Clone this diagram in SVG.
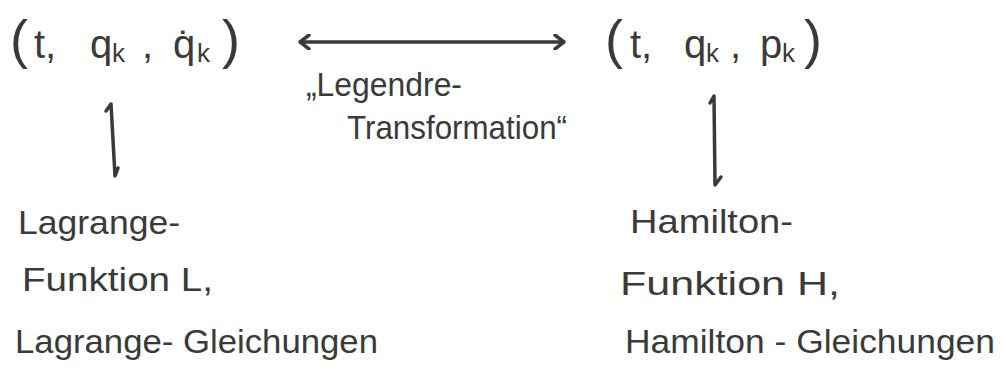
<svg xmlns="http://www.w3.org/2000/svg" width="1001" height="370" viewBox="0 0 1001 370">
  <style>
    .t { font-family: "Liberation Sans", "DejaVu Sans", sans-serif; fill: #3a3a3a; font-size: 34px; }
    .big { font-size: 40px; }
    .par { font-size: 54px; }
    .sub { font-size: 26px; }
    .ln { fill: none; stroke: #3a3a3a; stroke-width: 3.5; stroke-linecap: round; stroke-linejoin: round; }
  </style>
  <defs>
    <marker id="chev" viewBox="0 0 12 16" refX="11" refY="8" markerWidth="12" markerHeight="16" markerUnits="userSpaceOnUse" orient="auto-start-reverse">
      <path d="M 2 1 L 11 8 L 2 15" fill="none" stroke="#3a3a3a" stroke-width="3.5" stroke-linecap="round" stroke-linejoin="round"/>
    </marker>
  </defs>
  <rect width="1001" height="370" fill="#ffffff"/>

  <g id="node-lagrange-vars">
    <text class="t big" y="58"><tspan class="par" x="10">(</tspan><tspan x="34">t,</tspan><tspan x="90">q</tspan><tspan class="sub" x="112" dy="4">k</tspan><tspan x="142" dy="-4">,</tspan><tspan x="173">q̇</tspan><tspan class="sub" x="197" dy="4">k</tspan><tspan class="par" x="222" dy="-4">)</tspan></text>
  </g>

  <g id="node-hamilton-vars">
    <text class="t big" y="58"><tspan class="par" x="605">(</tspan><tspan x="630">t,</tspan><tspan x="684">q</tspan><tspan class="sub" x="706" dy="4">k</tspan><tspan x="730" dy="-4">,</tspan><tspan x="760">p</tspan><tspan class="sub" x="782" dy="4">k</tspan><tspan class="par" x="804" dy="-4">)</tspan></text>
  </g>

  <g id="label-legendre">
    <text class="t" x="306" y="96" textLength="156" lengthAdjust="spacingAndGlyphs">„Legendre-</text>
    <text class="t" x="347" y="139" textLength="220" lengthAdjust="spacingAndGlyphs">Transformation“</text>
  </g>

  <g id="node-lagrange">
    <text class="t" x="18" y="234" textLength="162" lengthAdjust="spacingAndGlyphs">Lagrange-</text>
    <text class="t" x="22" y="291" textLength="191" lengthAdjust="spacingAndGlyphs">Funktion L,</text>
    <text class="t" x="15" y="353" textLength="363" lengthAdjust="spacingAndGlyphs">Lagrange- Gleichungen</text>
  </g>

  <g id="node-hamilton">
    <text class="t" x="630" y="233" textLength="163" lengthAdjust="spacingAndGlyphs">Hamilton-</text>
    <text class="t" x="620" y="295" textLength="220" lengthAdjust="spacingAndGlyphs">Funktion H,</text>
    <text class="t" x="625" y="353" textLength="370" lengthAdjust="spacingAndGlyphs">Hamilton - Gleichungen</text>
  </g>

  <g id="connectors">
    <line class="ln" x1="300" y1="42" x2="564" y2="42" marker-start="url(#chev)" marker-end="url(#chev)"/>
    <path class="ln" d="M 106 111 L 111 104 L 115 176 L 118 168"/>
    <path class="ln" d="M 710 103 L 714 96 L 715 185 L 721 177"/>
  </g>
</svg>
